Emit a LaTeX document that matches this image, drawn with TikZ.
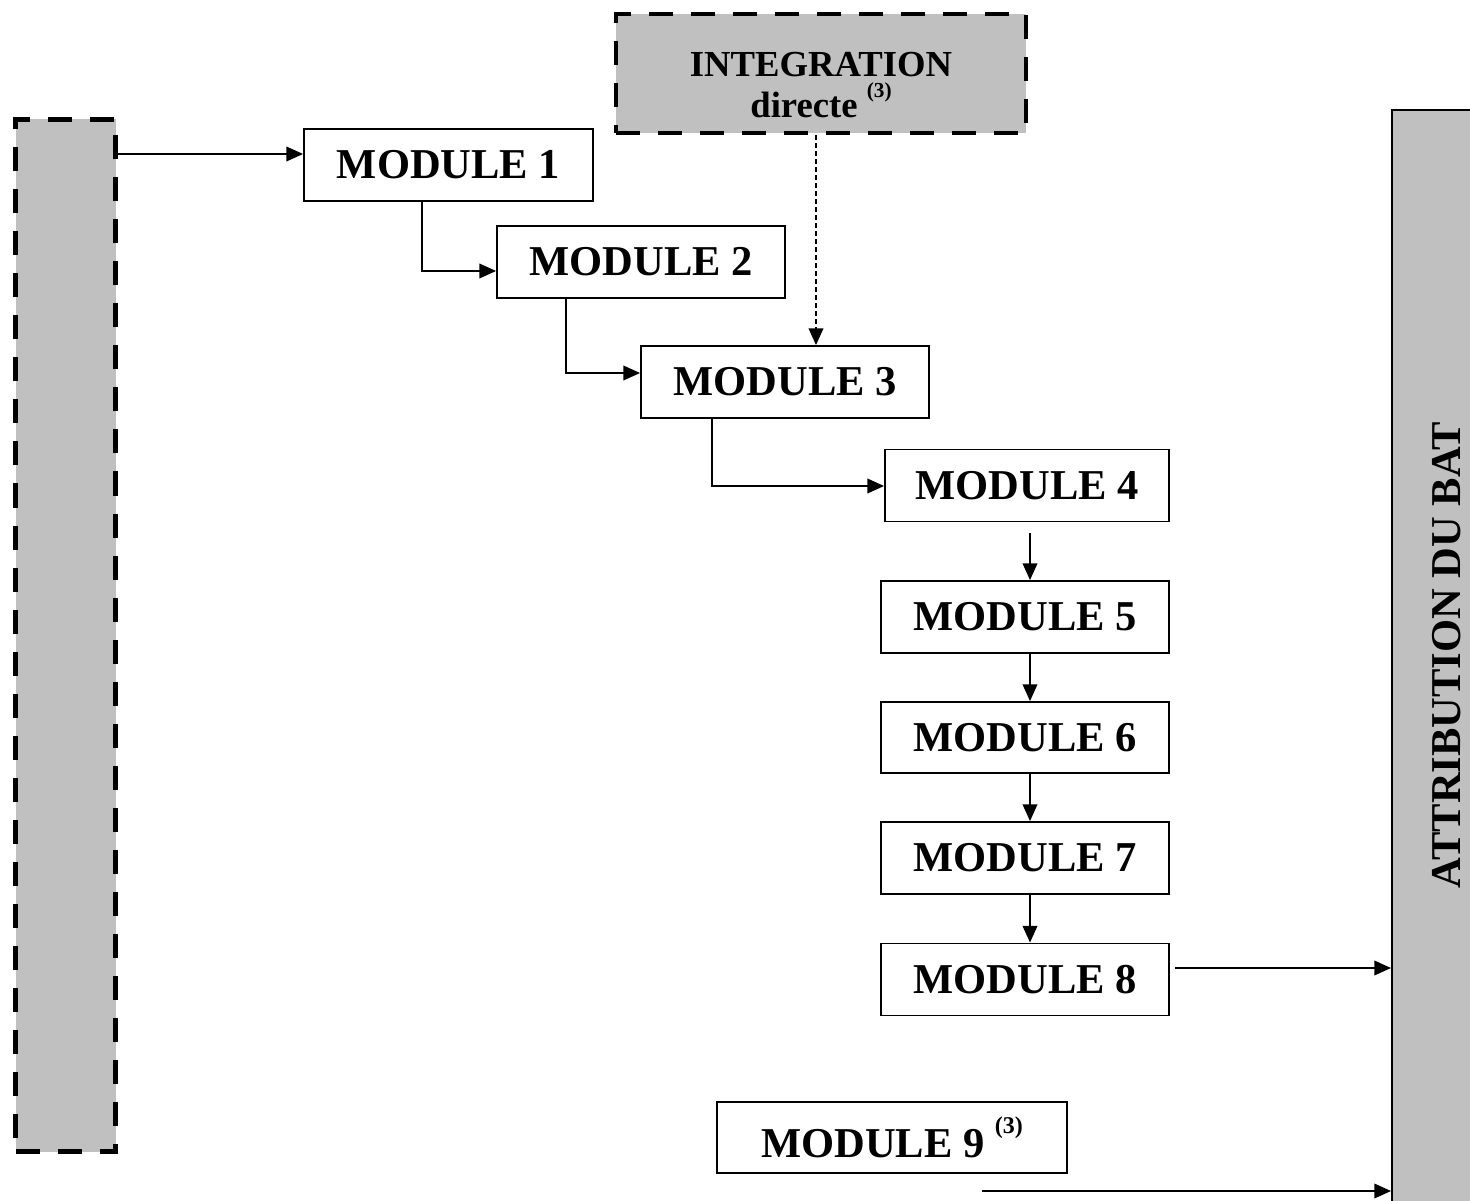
\documentclass[tikz,border=0pt]{standalone}
\usepackage{fontspec}
\setmainfont{Liberation Serif}
\usetikzlibrary{arrows.meta,calc}
\definecolor{boxgray}{RGB}{192,192,192}
\begin{document}
\begin{tikzpicture}[x=0.75pt,y=-0.75pt,
  modbox/.style={draw,line width=1.4pt,inner sep=0pt,font=\fontsize{31.9}{36}\selectfont\bfseries,minimum width=288*0.75pt,minimum height=72*0.75pt},
  dashbox/.style={draw,fill=boxgray,line width=3.7pt,dash pattern=on 18pt off 13.5pt,inner sep=0pt},
  arr/.style={line width=1.1pt,-{Triangle[length=12.5pt,width=11pt]}},
  dotarr/.style={line width=1.1pt,dash pattern=on 3.5pt off 2.5pt,-{Triangle[length=12.5pt,width=11pt]}}
]
\clip (0,0) rectangle (1470,1201);
\fill[white] (0,0) rectangle (1470,1201);
% side boxes
\node[dashbox,minimum width=100*0.75pt,minimum height=1032*0.75pt] (left) at (65.5,635.5) {};
\node[draw,fill=boxgray,line width=1.5pt,inner sep=0pt,minimum width=100*0.75pt,minimum height=1110*0.75pt] (bat) at (1442,665) {};
\node[rotate=90,inner sep=0pt,font=\fontsize{31.9}{36}\selectfont\bfseries] (battext) at (1447,655) {ATTRIBUTION DU BAT};
\node[dashbox,minimum width=410*0.75pt,minimum height=119*0.75pt] (integ) at (821,73.5) {};
\node[inner sep=0pt,align=center,font=\fontsize{27.5}{30.8}\selectfont\bfseries] (integtext) at (821,85)
  {INTEGRATION\\directe \raisebox{0.55em}{\fontsize{16}{18}\selectfont (3)}};
% modules
\node[modbox,minimum width=289*0.75pt] (m1) at (448.5,165) {MODULE 1};
\node[modbox] (m2) at (641,262) {MODULE 2};
\node[modbox] (m3) at (785,382) {MODULE 3};
\node[modbox,minimum width=284*0.75pt] (m4) at (1027,485.5) {MODULE 4};
\node[modbox] (m5) at (1025,617) {MODULE 5};
\node[modbox,minimum height=71*0.75pt] (m6) at (1025,737.5) {MODULE 6};
\node[modbox] (m7) at (1025,858) {MODULE 7};
\node[modbox] (m8) at (1025,979.5) {MODULE 8};
\node[modbox,minimum width=350*0.75pt,minimum height=71*0.75pt] (m9) at (892,1137.5) {MODULE 9 \raisebox{0.55em}{\fontsize{18}{20}\selectfont (3)}};
% connectors
\draw[arr] (left.east |- 0,154) -- (m1.west |- 0,154);
\draw[arr] (m1.south -| 422,0) |- (m2.west |- 0,271);
\draw[arr] (m2.south -| 566,0) |- (m3.west |- 0,373);
\draw[arr] (m3.south -| 712,0) |- (m4.west |- 0,486);
\draw[dotarr] (integ.south -| 816,0) -- (m3.north -| 816,0);
\draw[arr] (1030,533) -- (m5.north -| 1030,0);
\draw[arr] (m5.south -| 1030,0) -- (m6.north -| 1030,0);
\draw[arr] (m6.south -| 1030,0) -- (m7.north -| 1030,0);
\draw[arr] (m7.south -| 1030,0) -- (m8.north -| 1030,0);
\coordinate (s8) at (1175,968);
\draw[arr] (s8) -- (bat.west |- s8);
\coordinate (s9) at (982,1191);
\draw[arr] (s9) -- (bat.west |- s9);
\end{tikzpicture}
\end{document}
